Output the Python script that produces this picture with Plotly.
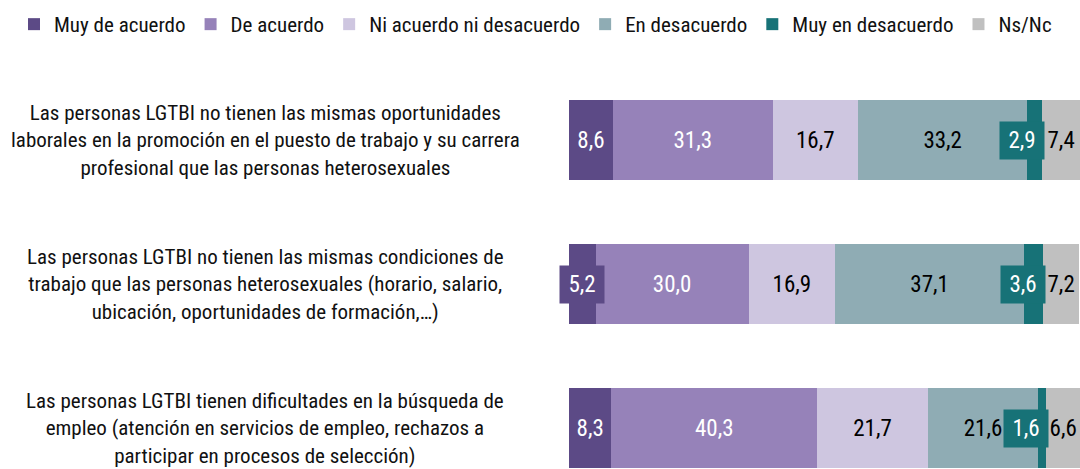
import plotly.graph_objects as go

categories = [
    "Las personas LGTBI no tienen las mismas oportunidades<br>laborales en la promoción en el puesto de trabajo y su carrera<br>profesional que las personas heterosexuales",
    "Las personas LGTBI no tienen las mismas condiciones de<br>trabajo que las personas heterosexuales (horario, salario,<br>ubicación, oportunidades de formación,…)",
    "Las personas LGTBI tienen dificultades en la búsqueda de<br>empleo (atención en servicios de empleo, rechazos a<br>participar en procesos de selección)",
]
series_names = ["Muy de acuerdo", "De acuerdo", "Ni acuerdo ni desacuerdo",
                "En desacuerdo", "Muy en desacuerdo", "Ns/Nc"]
muy_de_acuerdo = [8.6, 5.2, 8.3]
de_acuerdo = [31.3, 30.0, 40.3]
ni_acuerdo = [16.7, 16.9, 21.7]
en_desacuerdo = [33.2, 37.1, 21.6]
muy_en_desacuerdo = [2.9, 3.6, 1.6]
ns_nc = [7.4, 7.2, 6.6]

values = [muy_de_acuerdo, de_acuerdo, ni_acuerdo, en_desacuerdo, muy_en_desacuerdo, ns_nc]
colors = ["#5c4a86", "#9682b9", "#cec6e0", "#8facb4", "#177277", "#c0c0c0"]
text_colors = ["white", "white", "black", "black", "white", "black"]

FONT = "Roboto Condensed, Liberation Sans Narrow, Arial Narrow, Roboto, sans-serif"

W, H = 1080, 469
X0 = 569          # left edge of the bars in px
TOP = 68          # top of the plot domain in px
SPACING = 144     # px between category centres
SMALL = 6.0       # segments narrower than this get a boxed label

ypos = list(range(len(categories)))
totals = [sum(v[j] for v in values) for j in ypos]
xmax = max(totals)


def fmt(v):
    return f"{v:.1f}".replace(".", ",")


fig = go.Figure()
for i, (name, vals) in enumerate(zip(series_names, values)):
    boxed = i in (0, 4)
    texts = [("" if (boxed and v < SMALL) else fmt(v)) for v in vals]
    fig.add_trace(go.Bar(
        name=name, y=ypos, x=vals, orientation="h",
        marker=dict(color=colors[i], line=dict(width=0)),
        width=0.55,
        text=texts,
        textposition="inside",
        insidetextanchor="middle",
        constraintext="none",
        textangle=0,
        cliponaxis=False,
        textfont=dict(color=text_colors[i], size=23, family=FONT),
        hoverinfo="skip",
    ))

# boxed labels for narrow segments
for i in (0, 4):
    for j in ypos:
        v = values[i][j]
        if v >= SMALL:
            continue
        start = sum(values[k][j] for k in range(i))
        end = start + v
        if i == 4:
            kw = dict(x=end, xanchor="right", xshift=3)
        else:
            kw = dict(x=(start + end) / 2, xanchor="center")
        fig.add_annotation(
            y=j, xref="x", yref="y", text=fmt(v),
            showarrow=False, yanchor="middle",
            bgcolor=colors[i], borderpad=5, width=34, height=27,
            font=dict(color="white", size=23, family=FONT), **kw,
        )

# category labels
for j, c in enumerate(categories):
    fig.add_annotation(
        x=265 / W, y=j, xref="paper", yref="y",
        text=c, showarrow=False, xanchor="center", yanchor="middle", align="center",
        font=dict(color="#111111", size=21, family=FONT),
    )

plot_h = H - TOP
fig.update_layout(
    barmode="stack",
    width=W, height=H,
    margin=dict(l=0, r=0, t=0, b=0, autoexpand=False),
    paper_bgcolor="white", plot_bgcolor="white",
    font=dict(family=FONT, color="#111111"),
    showlegend=True,
    legend=dict(orientation="h", x=14 / W, y=1 - 4 / H, xanchor="left", yanchor="top",
                font=dict(size=21, family=FONT, color="#111111"), traceorder="normal",
                itemwidth=30, bgcolor="rgba(0,0,0,0)"),
    xaxis=dict(domain=[X0 / W, 1], range=[0, xmax], visible=False, fixedrange=True),
    yaxis=dict(domain=[0, plot_h / H], range=[2 + (plot_h / SPACING - 2.5), -0.5],
               visible=False, fixedrange=True),
)

fig.write_html("out.html", config={"displayModeBar": False},
               post_script="document.body.style.margin='0';")
